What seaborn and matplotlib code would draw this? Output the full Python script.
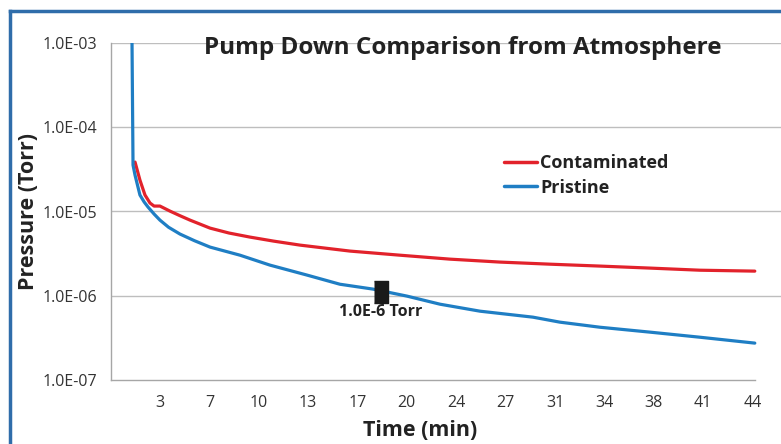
import numpy as np
import pandas as pd
import matplotlib
matplotlib.use("Agg")
import matplotlib.pyplot as plt
from matplotlib.lines import Line2D
from matplotlib.ticker import FixedLocator, FuncFormatter, NullLocator
import seaborn as sns

# Data (time in minutes, pressure in Torr)
t_pristine = [1.46, 1.53, 1.67, 2.01, 2.30, 2.57, 3.00, 3.40, 4.00, 4.79, 5.80, 6.88, 8.96,
              11.04, 13.61, 15.90, 18.19, 20.56, 22.85, 25.63, 29.31, 31.18, 33.96, 37.43,
              40.90, 44.72]
p_pristine = [1.0e-3, 3.56e-5, 2.70e-5, 1.57e-5, 1.30e-5, 1.13e-5, 9.3e-6, 7.9e-6, 6.5e-6,
              5.4e-6, 4.5e-6, 3.78e-6, 3.03e-6, 2.31e-6, 1.76e-6, 1.37e-6, 1.20e-6, 9.9e-7,
              7.94e-7, 6.56e-7, 5.57e-7, 4.86e-7, 4.23e-7, 3.70e-7, 3.22e-7, 2.74e-7]

t_contam = [1.67, 2.01, 2.36, 2.71, 2.99, 3.40, 4.10, 4.80, 5.49, 6.88, 8.20, 9.65, 11.30,
            13.13, 16.60, 20.07, 23.54, 27.01, 30.49, 33.96, 37.43, 40.90, 44.72]
p_contam = [3.86e-5, 2.36e-5, 1.57e-5, 1.26e-5, 1.16e-5, 1.16e-5, 1.01e-5, 8.9e-6, 7.9e-6,
            6.35e-6, 5.55e-6, 4.97e-6, 4.45e-6, 3.99e-6, 3.39e-6, 3.03e-6, 2.72e-6, 2.51e-6,
            2.37e-6, 2.25e-6, 2.13e-6, 2.01e-6, 1.96e-6]

# Excel-style category labels, evenly spaced
x_tick_labels = ['3', '7', '10', '13', '17', '20', '24', '27', '31', '34', '38', '41', '44']
tick_start, tick_step = 3.4, 3.43

marker_t, marker_p = 18.75, 1.1e-6
marker_label = '1.0E-6 Torr'

df = pd.concat([
    pd.DataFrame({'time': t_contam, 'pressure': p_contam, 'series': 'Contaminated'}),
    pd.DataFrame({'time': t_pristine, 'pressure': p_pristine, 'series': 'Pristine'}),
])

sns.set_style("white")
plt.rcParams['font.family'] = ['Open Sans', 'DejaVu Sans']

red = '#E2222B'
blue = '#1F7EC4'
grey = '#A6A6A6'
txt = '#222222'

fig = plt.figure(figsize=(7.81, 4.44), dpi=100)
# plot area runs to the right edge (gridlines are cut off there)
ax = fig.add_axes([111 / 781, 1 - 380 / 444, 1 - 111 / 781, (380 - 43) / 444])

sns.lineplot(data=df, x='time', y='pressure', hue='series', sort=False,
             palette={'Contaminated': red, 'Pristine': blue},
             linewidth=2.3, ax=ax, legend=False)

ax.set_yscale('log')
ax.set_ylim(1e-7, 1e-3)
ax.set_xlim(0, 46.54)

ax.yaxis.set_major_locator(FixedLocator([1e-7, 1e-6, 1e-5, 1e-4, 1e-3]))
ax.yaxis.set_minor_locator(NullLocator())
ax.yaxis.set_major_formatter(FuncFormatter(lambda v, _: f"{v:.1E}"))
ax.set_xticks([tick_start + i * tick_step for i in range(len(x_tick_labels))])
ax.set_xticklabels(x_tick_labels)

ax.grid(axis='y', color='#BEBEBE', linewidth=1.0)
ax.grid(axis='x', visible=False)
ax.get_ygridlines()[0].set_visible(False)  # bottom is the axis line itself
for side in ['top', 'right']:
    ax.spines[side].set_visible(False)
for side in ['left', 'bottom']:
    ax.spines[side].set_color(grey)
    ax.spines[side].set_linewidth(1.0)
ax.spines['bottom'].set_bounds(0, 44.75)
ax.tick_params(axis='both', direction='out', length=4, width=1, color=grey,
               labelsize=11.5, labelcolor='#333333', pad=6)
ax.tick_params(axis='x', pad=7)

ax.set_xlabel('Time (min)', fontsize=15.5, fontweight='bold', color=txt, va='center')
ax.xaxis.set_label_coords((420 - 111) / 670, -(430 - 380) / 337)
ax.set_ylabel('Pressure (Torr)', fontsize=15.5, fontweight='bold', color=txt, va='center')
ax.yaxis.set_label_coords(-(111 - 29) / 670, (380 - 212) / 337)

# title inside plot area
fig.text(463 / 781, 1 - 48 / 444, 'Pump Down Comparison from Atmosphere',
         ha='center', va='center', fontsize=17.5, fontweight='bold', color=txt)

# legend
handles = [Line2D([], [], color=red, lw=2.5), Line2D([], [], color=blue, lw=2.5)]
fig.legend(handles, ['Contaminated', 'Pristine'], loc='upper left',
           bbox_to_anchor=(488 / 781, 1 - 138 / 444), frameon=False,
           handlelength=1.8, handletextpad=0.2, labelspacing=0.35,
           prop={'size': 13, 'weight': 'bold'}, labelcolor=txt)

# 1.0E-6 Torr marker
ax.plot([marker_t], [marker_p], marker=[(-0.32, -0.5), (0.32, -0.5), (0.32, 0.5), (-0.32, 0.5)],
        markersize=16, color='#1A1A1A', linestyle='none', zorder=5)
ax.annotate(marker_label, (marker_t, marker_p), xytext=(0, -14), textcoords='offset points',
            ha='center', va='center', fontsize=11.5, fontweight='bold', color=txt)

# blue frame (left and top edges only; the rest is cropped off)
frame_col = '#2F6DAA'
fig.add_artist(Line2D([9.5 / 781, 9.5 / 781], [0, 1 - 11 / 444], color=frame_col, lw=2.5,
                      transform=fig.transFigure, solid_capstyle='projecting'))
fig.add_artist(Line2D([9.5 / 781, 1], [1 - 11 / 444, 1 - 11 / 444], color=frame_col, lw=2.5,
                      transform=fig.transFigure, solid_capstyle='projecting'))

fig.savefig('out.png', dpi=100)
